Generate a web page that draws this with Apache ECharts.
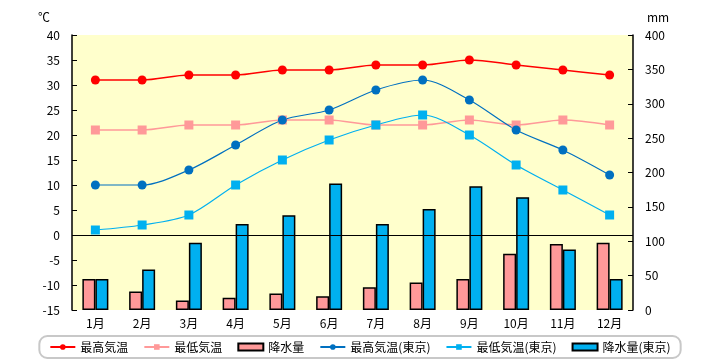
<!DOCTYPE html>
<html><head><meta charset="utf-8">
<script src="https://cdn.jsdelivr.net/npm/echarts@6/dist/echarts.min.js"></script>
<style>html,body{margin:0;padding:0;background:#fff}#c{width:720px;height:360px}</style>
</head><body><div id="c"></div>
<script>
const categories = ['1月','2月','3月','4月','5月','6月','7月','8月','9月','10月','11月','12月'];
const maxTemp = [31,31,32,32,33,33,34,34,35,34,33,32];
const minTemp = [21,21,22,22,23,23,22,22,23,22,23,22];
const rain = [45,27,14,18,24,20,33,40,45,82,96,98];
const maxTempTokyo = [10,10,13,18,23,25,29,31,27,21,17,12];
const minTempTokyo = [1,2,4,10,15,19,22,24,20,14,9,4];
const rainTokyo = [45,59,98,125,138,184,125,147,180,164,88,45];
const names = ['最高気温','最低気温','降水量','最高気温(東京)','最低気温(東京)','降水量(東京)'];

const font = '"Noto Sans CJK JP", sans-serif';
const chart = echarts.init(document.getElementById('c'));
const lineSeries = (name, data, color, symbol, width, size) => ({
  name, type: 'line', yAxisIndex: 0, data, smooth: 0.3,
  symbol, symbolSize: size, itemStyle: {color},
  lineStyle: {color, width}, z: 5
});
chart.setOption({
  animation: false,
  textStyle: {fontFamily: font},
  grid: {left: 72, right: 87, top: 35, bottom: 50, show: true, backgroundColor: '#ffffcc', borderWidth: 0},
  legend: {
    bottom: 2, left: 'center', width: 700,
    data: names.map((n, i) => (i === 2 || i === 5) ? {name: n, icon: 'rect'} : {name: n}),
    itemWidth: 25, itemHeight: 7, itemGap: 15,
    borderColor: '#c8c8c8', borderWidth: 2, borderRadius: 8,
    padding: [5, 10, 5, 10],
    textStyle: {fontFamily: font, fontSize: 12, color: '#000'}
  },
  xAxis: {
    type: 'category', data: categories,
    axisLine: {show: false}, axisTick: {show: false},
    axisLabel: {color: '#000', fontSize: 12, margin: 7, fontFamily: font}
  },
  yAxis: [{
    type: 'value', min: -15, max: 40, interval: 5,
    name: '℃', nameGap: 12, nameTextStyle: {color: '#000', fontSize: 12, align: 'right', padding: [0, 22, 0, 0]},
    axisLine: {show: true, lineStyle: {color: '#000', width: 1.5}},
    axisTick: {show: true, inside: true, length: 5, lineStyle: {color: '#000'}},
    splitLine: {show: false},
    axisLabel: {color: '#000', fontSize: 12, margin: 12, fontFamily: font}
  }, {
    type: 'value', min: 0, max: 400, interval: 50, position: 'right',
    name: 'mm', nameGap: 12, nameTextStyle: {color: '#000', fontSize: 12, align: 'left', padding: [0, 0, 0, 14]},
    axisLine: {show: true, lineStyle: {color: '#000', width: 1.5}},
    axisTick: {show: true, inside: true, length: 5, lineStyle: {color: '#000'}},
    splitLine: {show: false},
    axisLabel: {color: '#000', fontSize: 12, margin: 12, fontFamily: font}
  }],
  series: [
    Object.assign(lineSeries(names[0], maxTemp, '#ff0000', 'circle', 1.5, 9), {
      markLine: {silent: true, symbol: 'none', label: {show: false},
        lineStyle: {color: '#000', width: 1.2, type: 'solid'}, data: [{yAxis: 0}]}
    }),
    lineSeries(names[1], minTemp, '#ff9999', 'rect', 1.5, 9),
    {name: names[2], type: 'bar', yAxisIndex: 1, data: rain, barWidth: 13, barGap: '0%',
      itemStyle: {color: '#ff9999', borderColor: '#000', borderWidth: 1.5}, z: 2},
    lineSeries(names[3], maxTempTokyo, '#0070c0', 'circle', 1.2, 9),
    lineSeries(names[4], minTempTokyo, '#00b0f0', 'rect', 1.2, 9),
    {name: names[5], type: 'bar', yAxisIndex: 1, data: rainTokyo, barWidth: 13, barGap: '0%',
      itemStyle: {color: '#00b0f0', borderColor: '#000', borderWidth: 1.5}, z: 2}
  ]
});
</script></body></html>
